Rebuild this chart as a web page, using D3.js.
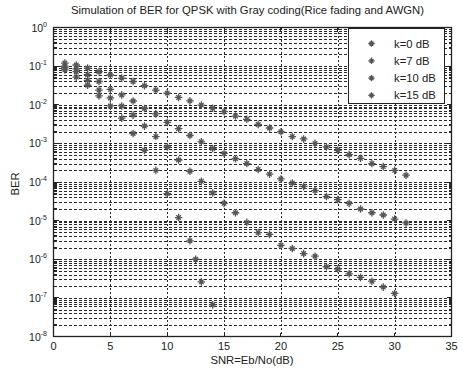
<!DOCTYPE html>
<html>
<head>
<meta charset="utf-8">
<script src="https://cdn.jsdelivr.net/npm/d3@7"></script>
<style>
  body { margin: 0; background: #fff; }
  text { font-family: "Liberation Sans", Arial, sans-serif; fill: #222; }
</style>
</head>
<body>
<svg id="chart" width="463" height="371"></svg>
<script>
// values (SNR in dB, BER)
const snrK0 = [1, 2, 3, 4, 5, 6, 7, 8, 9, 10, 11, 12, 13, 14, 15, 16, 17, 18, 19, 20, 21, 22, 23, 24, 25, 26, 27, 28, 29, 30, 31];
const berK0 = [0.12, 0.107, 0.089, 0.072, 0.059, 0.049, 0.04, 0.031, 0.024, 0.02, 0.0155, 0.0126, 0.0098, 0.0081, 0.0066, 0.0051, 0.0042, 0.0031, 0.0025, 0.002, 0.0015, 0.0013, 0.001, 0.00081, 0.00066, 0.00051, 0.00041, 0.0003, 0.00025, 0.0002, 0.00015];

const snrK7 = [1, 2, 3, 4, 5, 6, 7, 8, 9, 10, 11, 12, 13, 14, 15, 16, 17, 18, 19, 20, 21, 22, 23, 24, 25, 26, 27, 28, 29, 30, 31];
const berK7 = [0.1, 0.085, 0.06, 0.04, 0.025, 0.018, 0.0125, 0.008, 0.0058, 0.0035, 0.0024, 0.0016, 0.0011, 0.00074, 0.00055, 0.0004, 0.0003, 0.00021, 0.00016, 0.00012, 9.4e-5, 7.7e-5, 6e-5, 4.2e-5, 3.5e-5, 2.8e-5, 2e-5, 1.6e-5, 1.4e-5, 1.1e-5, 8.7e-6];

const snrK10 = [1, 2, 3, 4, 5, 6, 7, 8, 9, 10, 11, 12, 13, 14, 15, 16, 17, 18, 19, 20, 21, 22, 23, 24, 25, 26, 27, 28, 29, 30];
const berK10 = [0.09, 0.072, 0.043, 0.024, 0.015, 0.0093, 0.0054, 0.0028, 0.0015, 0.00081, 0.00037, 0.00019, 0.000104, 5.2e-5, 2.8e-5, 1.6e-5, 9e-6, 4.9e-6, 4.4e-6, 2.3e-6, 1.9e-6, 1.4e-6, 1.2e-6, 6.4e-7, 5.6e-7, 4.2e-7, 3.4e-7, 2.7e-7, 1.9e-7, 1.3e-7];

const snrK15 = [1, 2, 3, 4, 5, 6, 7, 8, 9, 10, 11, 12, 12.5, 13, 14];
const berK15 = [0.08, 0.052, 0.032, 0.017, 0.0093, 0.0045, 0.0018, 0.00066, 0.0002, 5e-5, 1.2e-5, 3e-6, 1e-6, 2.6e-7, 6.6e-8];

const seriesNames = ['k=0 dB', 'k=7 dB', 'k=10 dB', 'k=15 dB'];
const xTicks = [0, 5, 10, 15, 20, 25, 30, 35];
const yExponents = [0, -1, -2, -3, -4, -5, -6, -7, -8];

const series = [
  { name: seriesNames[0], x: snrK0, y: berK0 },
  { name: seriesNames[1], x: snrK7, y: berK7 },
  { name: seriesNames[2], x: snrK10, y: berK10 },
  { name: seriesNames[3], x: snrK15, y: berK15 },
];

const svg = d3.select('#chart');
const plotLeft = 53.5, plotRight = 451.5, plotTop = 27.5, plotBottom = 336.5;

const x = d3.scaleLinear().domain([0, 35]).range([plotLeft, plotRight]);
const y = d3.scaleLog().domain([1e-8, 1]).range([plotBottom, plotTop]);

const gridColor = '#2a2a2a';
const markColor = '#555';

// minor + major horizontal grid
const minorVals = [];
for (let e = -8; e < 0; e++) {
  for (let m = 2; m <= 9; m++) minorVals.push(m * Math.pow(10, e));
}
const grid = svg.append('g').attr('shape-rendering', 'crispEdges');
grid.selectAll('line.h')
  .data(minorVals.concat(yExponents.slice(1, -1).map(e => Math.pow(10, e))))
  .enter().append('line')
  .attr('x1', plotLeft).attr('x2', plotRight)
  .attr('y1', d => Math.round(y(d)) + 0.5)
  .attr('y2', d => Math.round(y(d)) + 0.5)
  .attr('stroke', gridColor)
  .attr('stroke-width', 1)
  .attr('stroke-dasharray', '3,2');

grid.selectAll('line.v')
  .data(xTicks.slice(1, -1))
  .enter().append('line')
  .attr('y1', plotTop).attr('y2', plotBottom)
  .attr('x1', d => Math.round(x(d)) + 0.5)
  .attr('x2', d => Math.round(x(d)) + 0.5)
  .attr('stroke', gridColor)
  .attr('stroke-width', 1)
  .attr('stroke-dasharray', '2,2');

// frame
svg.append('rect')
  .attr('x', plotLeft).attr('y', plotTop)
  .attr('width', plotRight - plotLeft).attr('height', plotBottom - plotTop)
  .attr('fill', 'none').attr('stroke', '#222').attr('stroke-width', 1.3);

// ticks on the inside
const tk = svg.append('g').attr('stroke', '#222').attr('shape-rendering', 'crispEdges');
xTicks.forEach(t => {
  tk.append('line').attr('x1', x(t)).attr('x2', x(t)).attr('y1', plotBottom).attr('y2', plotBottom - 4);
  tk.append('line').attr('x1', x(t)).attr('x2', x(t)).attr('y1', plotTop).attr('y2', plotTop + 4);
});
yExponents.forEach(e => {
  const yy = y(Math.pow(10, e));
  tk.append('line').attr('x1', plotLeft).attr('x2', plotLeft + 5).attr('y1', yy).attr('y2', yy);
  tk.append('line').attr('x1', plotRight).attr('x2', plotRight - 5).attr('y1', yy).attr('y2', yy);
});
minorVals.forEach(v => {
  const yy = y(v);
  tk.append('line').attr('x1', plotLeft).attr('x2', plotLeft + 3).attr('y1', yy).attr('y2', yy);
  tk.append('line').attr('x1', plotRight).attr('x2', plotRight - 3).attr('y1', yy).attr('y2', yy);
});

// tick labels
svg.append('g').selectAll('text')
  .data(xTicks)
  .enter().append('text')
  .attr('x', d => x(d))
  .attr('y', 350)
  .attr('text-anchor', 'middle')
  .attr('font-size', 11)
  .text(d => d);

const yl = svg.append('g').selectAll('text')
  .data(yExponents)
  .enter().append('text')
  .attr('x', 47)
  .attr('y', d => y(Math.pow(10, d)) + 4)
  .attr('text-anchor', 'end')
  .attr('font-size', 10.5);
yl.append('tspan').text('10');
yl.append('tspan').attr('dy', -5).attr('font-size', 7).text(d => d);

// axis titles
svg.append('text')
  .attr('x', (plotLeft + plotRight) / 2 - 5).attr('y', 14)
  .attr('text-anchor', 'middle').attr('font-size', 11.3)
  .text('Simulation of BER for QPSK with Gray coding(Rice fading and AWGN)');
svg.append('text')
  .attr('x', 252).attr('y', 364)
  .attr('text-anchor', 'middle').attr('font-size', 11.3)
  .text('SNR=Eb/No(dB)');
svg.append('text')
  .attr('transform', 'translate(19,184) rotate(-90)')
  .attr('text-anchor', 'middle').attr('font-size', 11.3)
  .text('BER');

// asterisk marker
function star(g, cx, cy, r) {
  const d = r * 0.6;
  g.append('path')
    .attr('d', `M${cx - r},${cy}H${cx + r}M${cx},${cy - r}V${cy + r}` +
      `M${cx - d},${cy - d}L${cx + d},${cy + d}M${cx - d},${cy + d}L${cx + d},${cy - d}`)
    .attr('stroke', markColor).attr('stroke-width', 1.3).attr('fill', 'none');
}

const marks = svg.append('g');
series.forEach(s => {
  s.x.forEach((sx, i) => star(marks, x(sx), y(s.y[i]), 3.8));
});

// legend
const lg = svg.append('g');
lg.append('rect')
  .attr('x', 348.5).attr('y', 28.5).attr('width', 96).attr('height', 75)
  .attr('fill', '#fff').attr('stroke', '#222').attr('stroke-width', 1);
series.forEach((s, i) => {
  const ly = 43.5 + i * 17.3;
  star(lg, 371.5, ly, 3.2);
  lg.append('text')
    .attr('x', 394).attr('y', ly + 4)
    .attr('font-size', 11.3)
    .text(s.name);
});
</script>
</body>
</html>
